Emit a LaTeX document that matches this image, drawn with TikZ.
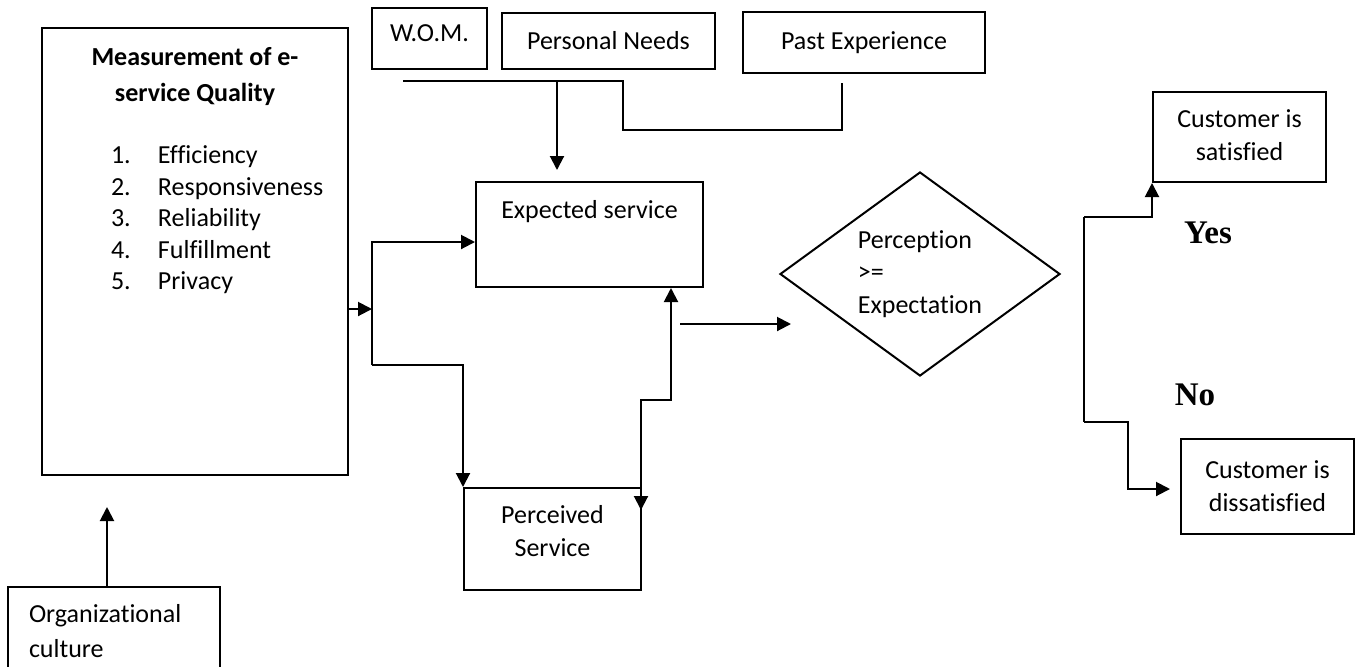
\documentclass[tikz,border=0pt]{standalone}
\usepackage{fontspec}
\setmainfont{Carlito}[Ligatures=NoCommon]
\newfontfamily\answerfont{Liberation Serif}
\usetikzlibrary{positioning, arrows.meta, shapes.geometric}

\begin{document}
\begin{tikzpicture}[x=0.5pt, y=-0.5pt, line width=1pt,
    every node/.style={font=\fontsize{13pt}{16.5pt}\selectfont},
    box/.style={draw, rectangle, align=center, inner sep=2pt},
    decision/.style={draw, diamond, aspect=1.4, align=left, inner sep=1pt,
        font=\fontsize{13pt}{16.25pt}\selectfont},
    answer/.style={font=\answerfont\bfseries\fontsize{16.5pt}{18pt}\selectfont},
    arr/.style={-{Triangle[length=7pt, width=7pt]}},
    biarr/.style={{Triangle[length=7pt, width=7pt]}-{Triangle[length=7pt, width=7pt]}}]

    % Frame of the picture
    \useasboundingbox (0,0) rectangle (1355,666);

    % Measurement box and its list
    \node[box, minimum width=153pt, minimum height=223.5pt] (meas) at (195,251.5) {};
    \node[inner sep=0pt, align=center, below=9.5pt of meas.north,
        font=\bfseries\fontsize{13pt}{18pt}\selectfont] (meastitle)
        {Measurement of e-\\service Quality};
    \node[inner sep=0pt, align=left, anchor=north west,
        font=\fontsize{13pt}{15.75pt}\selectfont] (measlist) at (110,145)
        {\makebox[23.5pt][l]{1.}Efficiency\\
         \makebox[23.5pt][l]{2.}Responsiveness\\
         \makebox[23.5pt][l]{3.}Reliability\\
         \makebox[23.5pt][l]{4.}Fulfillment\\
         \makebox[23.5pt][l]{5.}Privacy};

    % Organizational culture
    \node[box, minimum width=106pt, minimum height=46.5pt] (org) at (114,633.5) {};
    \node[inner sep=0pt, align=left, anchor=north west,
        font=\fontsize{13pt}{17.5pt}\selectfont] (orgtext) at (28,603)
        {Organizational\\culture};

    % Expectation inputs
    \node[box, minimum width=57.5pt, minimum height=30.5pt] (wom) at (429.5,38.5) {};
    \node[inner sep=0pt, below=8.5pt of wom.north] (womtext) {W.O.M.};
    \node[box, minimum width=106.5pt, minimum height=28pt] (needs) at (608.5,41) {Personal Needs};
    \node[box, minimum width=121pt, minimum height=30.5pt] (past) at (864,42.5) {Past Experience};

    % Expected and perceived service
    \node[box, minimum width=113.5pt, minimum height=52.5pt] (expected) at (589.5,234.5) {};
    \node[inner sep=0pt, below=9pt of expected.north] (expectedtext) {Expected service};
    \node[box, minimum width=88.5pt, minimum height=51pt] (perceived) at (552.5,539) {};
    \node[inner sep=0pt, align=center, below=8.5pt of perceived.north] (perceivedtext) {Perceived\\Service};

    % Decision and outcomes
    \node[decision, minimum width=140pt, minimum height=102pt] (decide) at (920,274)
        {Perception\\>=\\Expectation};
    \node[box, minimum width=86.5pt, minimum height=45pt] (satisfied) at (1239.5,137) {};
    \node[inner sep=0pt, align=center, below=9pt of satisfied.north] (satisfiedtext) {Customer is\\satisfied};
    \node[box, minimum width=86.5pt, minimum height=47.5pt] (dissatisfied) at (1267.5,486.5) {Customer is\\dissatisfied};
    \node[answer] (yes) at (1208,233) {Yes};
    \node[answer] (no) at (1195,395) {No};

    % Free ends and bends of the connectors
    \coordinate (split) at (372,309);
    \coordinate (splittop) at (372,242);
    \coordinate (splitbot) at (372,365);
    \coordinate (loopdown) at (641,510);
    \coordinate (loopbend) at (641,400);
    \coordinate (loopup) at (671,288);
    \coordinate (gapstart) at (680,324);
    \coordinate (gapend) at (791,324);
    \coordinate (womline) at (403,81);
    \coordinate (pastline) at (842,83);
    \coordinate (needsdrop) at (557,81);
    \coordinate (needstip) at (557,170);
    \coordinate (culturetip) at (107,507);
    \coordinate (yesbend) at (1084,217);
    \coordinate (nobend) at (1084,422);
    \coordinate (nostep) at (1128,422);
    \coordinate (notip) at (1170,489);

    % Connectors
    \draw[arr] (meas.east |- split) -- (split);
    \draw[arr] (splitbot) -- (splittop) -- (expected.west |- splittop);
    \draw[arr] (splitbot) -| (perceived.north west);
    \draw[biarr] (loopdown) -- (loopbend) -| (loopup);
    \draw[arr] (gapstart) -- (gapend);
    \draw (womline) -| (623,130) -| (pastline);
    \draw[arr] (needsdrop) -- (needstip);
    \draw[arr] (culturetip |- org.north) -- (culturetip);
    \draw (yesbend) -- (nobend);
    \draw[arr] (yesbend) -| (satisfied.south west);
    \draw[arr] (nobend) -- (nostep) |- (notip);

\end{tikzpicture}
\end{document}
